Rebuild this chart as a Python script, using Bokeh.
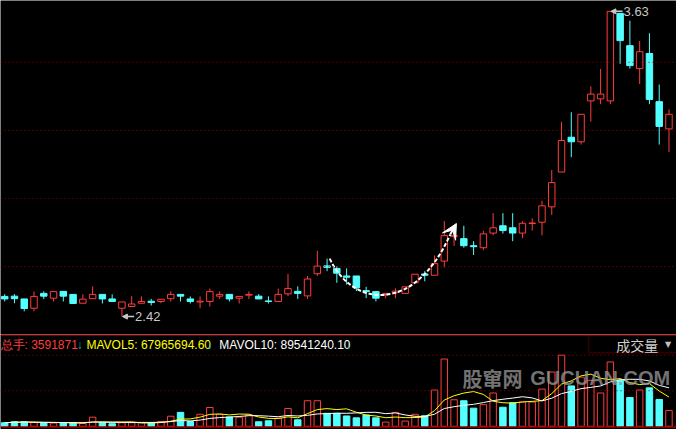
import numpy as np
import pandas as pd
from bokeh.plotting import figure
from bokeh.layouts import column
from bokeh.models import (ColumnDataSource, Range1d, Span, Label, Arrow,
                          NormalHead, VeeHead, BoxAnnotation)
from bokeh.embed import file_html
from bokeh.resources import INLINE

# daily candles
opens = [2.500, 2.501, 2.490, 2.453, 2.512, 2.493, 2.520, 2.508, 2.473, 2.491,
         2.508, 2.490, 2.453, 2.460, 2.473, 2.481, 2.480, 2.491, 2.508, 2.490,
         2.478, 2.480, 2.501, 2.508, 2.493, 2.505, 2.501, 2.482, 2.480, 2.510,
         2.520, 2.502, 2.590, 2.621, 2.611, 2.581, 2.581, 2.523, 2.519, 2.508,
         2.515, 2.512, 2.554, 2.589, 2.584, 2.640, 2.738, 2.729, 2.701, 2.693,
         2.751, 2.780, 2.772, 2.751, 2.789, 2.794, 2.855, 2.993, 3.131, 3.113,
         3.275, 3.283, 3.275, 3.622, 3.494, 3.403, 3.463, 3.272, 3.164]
highs = [2.509, 2.509, 2.490, 2.520, 2.520, 2.519, 2.520, 2.508, 2.508, 2.540,
         2.508, 2.508, 2.478, 2.501, 2.500, 2.490, 2.489, 2.520, 2.508, 2.500,
         2.500, 2.531, 2.520, 2.508, 2.500, 2.520, 2.509, 2.500, 2.531, 2.589,
         2.540, 2.581, 2.681, 2.650, 2.620, 2.611, 2.581, 2.538, 2.519, 2.512,
         2.532, 2.538, 2.588, 2.600, 2.662, 2.799, 2.765, 2.780, 2.719, 2.760,
         2.830, 2.830, 2.830, 2.798, 2.810, 2.879, 3.001, 3.192, 3.230, 3.222,
         3.333, 3.402, 3.630, 3.622, 3.593, 3.513, 3.543, 3.340, 3.241]
lows = [2.480, 2.473, 2.441, 2.441, 2.490, 2.480, 2.480, 2.472, 2.473, 2.491,
        2.472, 2.480, 2.420, 2.460, 2.473, 2.464, 2.473, 2.480, 2.480, 2.472,
        2.453, 2.460, 2.490, 2.480, 2.472, 2.490, 2.490, 2.472, 2.480, 2.501,
        2.490, 2.490, 2.581, 2.600, 2.554, 2.547, 2.521, 2.493, 2.480, 2.493,
        2.493, 2.512, 2.554, 2.560, 2.584, 2.615, 2.700, 2.693, 2.664, 2.683,
        2.742, 2.749, 2.719, 2.731, 2.761, 2.742, 2.823, 2.993, 3.052, 3.102,
        3.193, 3.262, 3.262, 3.422, 3.403, 3.342, 3.262, 3.102, 3.073]
closes = [2.490, 2.491, 2.452, 2.500, 2.501, 2.519, 2.501, 2.472, 2.489, 2.508,
          2.490, 2.480, 2.478, 2.470, 2.480, 2.476, 2.489, 2.508, 2.501, 2.480,
          2.481, 2.519, 2.508, 2.490, 2.500, 2.508, 2.490, 2.480, 2.508, 2.531,
          2.512, 2.569, 2.620, 2.615, 2.592, 2.576, 2.534, 2.519, 2.493, 2.512,
          2.521, 2.538, 2.588, 2.584, 2.630, 2.741, 2.742, 2.701, 2.697, 2.748,
          2.772, 2.761, 2.751, 2.790, 2.791, 2.859, 2.951, 3.118, 3.113, 3.222,
          3.302, 3.302, 3.630, 3.514, 3.415, 3.470, 3.281, 3.174, 3.222]
# volume, millions of shares
volumes = [8.1, 10.3, 10.3, 8.8, 7.4, 7.4, 7.4, 7.4, 6.6, 20.6,
           8.1, 5.9, 8.1, 8.1, 8.1, 7.4, 11.0, 22.8, 31.5, 11.0,
           27.2, 42.5, 27.2, 21.0, 20.6, 25.6, 10.3, 12.5, 18.4, 40.3,
           14.7, 57.8, 57.8, 29.3, 29.3, 23.4, 19.1, 25.6, 19.1, 9.6,
           31.5, 11.8, 27.2, 24.1, 81.9, 152.0, 60.0, 57.8, 41.0, 49.0,
           75.3, 43.1, 53.4, 54.8, 54.8, 84.1, 122.6, 160.7, 91.3, 111.0,
           103.8, 75.3, 145.4, 103.8, 65.0, 81.9, 86.9, 60.7, 35.9]

grid_levels = [2.618, 2.888, 3.158, 3.428]
total_hands = "3591871"
mavol5_txt = "67965694.60"
mavol10_txt = "89541240.10"

UP = "#ff3c3c"
DOWN = "#54ffff"
GRID = "#a00000"
LBL = "#c8c8c8"
FONT = "Liberation Sans"

df = pd.DataFrame(dict(x=np.arange(len(opens)), open=opens, high=highs,
                       low=lows, close=closes, vol=volumes))
up = df.close >= df.open
df["top"] = df[["open", "close"]].max(axis=1)
df["bottom"] = df[["open", "close"]].min(axis=1)
df["fill"] = np.where(up, "black", DOWN)
df["line"] = np.where(up, UP, DOWN)
df["ma5"] = df.vol.rolling(5, min_periods=1).mean()
df["ma10"] = df.vol.rolling(10, min_periods=1).mean()
src = ColumnDataSource(df)

xr = Range1d(-0.43, 68.77)
common = dict(width=676, x_range=xr, output_backend="svg", toolbar_location=None,
              min_border=0, background_fill_color="black", border_fill_color="black",
              outline_line_color=None, x_axis_location=None, y_axis_location=None)

# price panel
p = figure(height=334, y_range=Range1d(2.349, 3.673), **common)
p.grid.visible = False
for g in grid_levels:
    p.add_layout(Span(location=g, dimension="width", line_color=GRID,
                      line_dash="1 3", line_width=1))
p.segment(x0="x", y0="high", x1="x", y1="low", line_color="line", source=src)
p.vbar(x="x", top="top", bottom="bottom", width=0.66, fill_color="fill",
       line_color="line", source=src)

lo_i = int(np.argmin(lows))
hi_i = int(np.argmax(highs))
for i, val in [(lo_i, lows[lo_i]), (hi_i, highs[hi_i])]:
    p.add_layout(Arrow(end=NormalHead(size=5, fill_color=LBL, line_color=LBL),
                       x_start=i + 1.25, y_start=val, x_end=i + 0.05, y_end=val,
                       line_color=LBL, line_width=1.5))
    p.add_layout(Label(x=i + 1.35, y=val, text=f"{val:.2f}", text_color=LBL,
                       text_font=FONT, text_font_size="13px",
                       text_baseline="middle"))

# hand drawn rounding-bottom arrow
p.bezier(x0=[33.27], y0=[2.650], x1=[45.6], y1=[2.745], cx0=[35.6], cy0=[2.455],
         cx1=[42.0], cy1=[2.43], line_color="white", line_width=2, line_dash="4 2")
p.add_layout(Arrow(end=VeeHead(size=15, fill_color="white", line_color="white"),
                   x_start=45.6, y_start=2.745, x_end=46.24, y_end=2.789,
                   line_color="white", line_width=2))

# volume panel
v = figure(height=95, y_range=Range1d(-7.2, 207.4), **common)
v.grid.visible = False
vmax = max(volumes)
for g in [vmax, vmax / 2]:
    v.add_layout(Span(location=g, dimension="width", line_color=GRID,
                      line_dash="1 3", line_width=1))
v.add_layout(Span(location=206.5, dimension="width", line_color=GRID, line_width=1.5))
v.add_layout(Span(location=-1.4, dimension="width", line_color=GRID, line_width=1.5))
v.vbar(x="x", top="vol", bottom=0, width=0.66, fill_color="fill",
       line_color="line", source=src)
v.line("x", "ma5", line_color="#ffff00", line_width=1, source=src)
v.line("x", "ma10", line_color="white", line_width=1, source=src)

# watermark
wm = dict(y=109, text_color="#9a9a9a", text_alpha=0.75, text_font_style="bold",
          text_font_size="20px", text_baseline="middle")
v.add_layout(Label(x=46.87, text="股窜网", text_font="Noto Sans CJK SC", **wm))
v.add_layout(Label(x=53.8, text="GUCUAN.COM", text_font=FONT, **wm))

legend = [(-0.43, "总手: " + total_hands, UP), (7.37, "↓", "#12b4b4"),
          (8.37, "MAVOL5: " + mavol5_txt, "#ffff00"), (20.67, "↓", "#12b4b4"),
          (21.97, "MAVOL10: " + mavol10_txt, "white"), (34.87, "↓", "#12b4b4")]
for x, t, c in legend:
    v.add_layout(Label(x=x, y=183, text=t, text_color=c, text_font=FONT,
                       text_font_size="12px", text_baseline="middle"))

v.add_layout(BoxAnnotation(left=59.77, right=70, bottom=166.4, top=215,
                           fill_alpha=0, line_color=GRID, line_width=1.5))
v.add_layout(Label(x=62.6, y=183, text="成交量", text_color="#d0d0d0",
                   text_font="Noto Sans CJK SC", text_font_size="14px",
                   text_baseline="middle"))
v.add_layout(Label(x=67.6, y=185, text="▼", text_color="#c0c0c0",
                   text_font="DejaVu Sans", text_font_size="8px",
                   text_baseline="middle"))

layout = column(p, v, spacing=0)
open("out.html", "w").write(file_html(layout, INLINE))
